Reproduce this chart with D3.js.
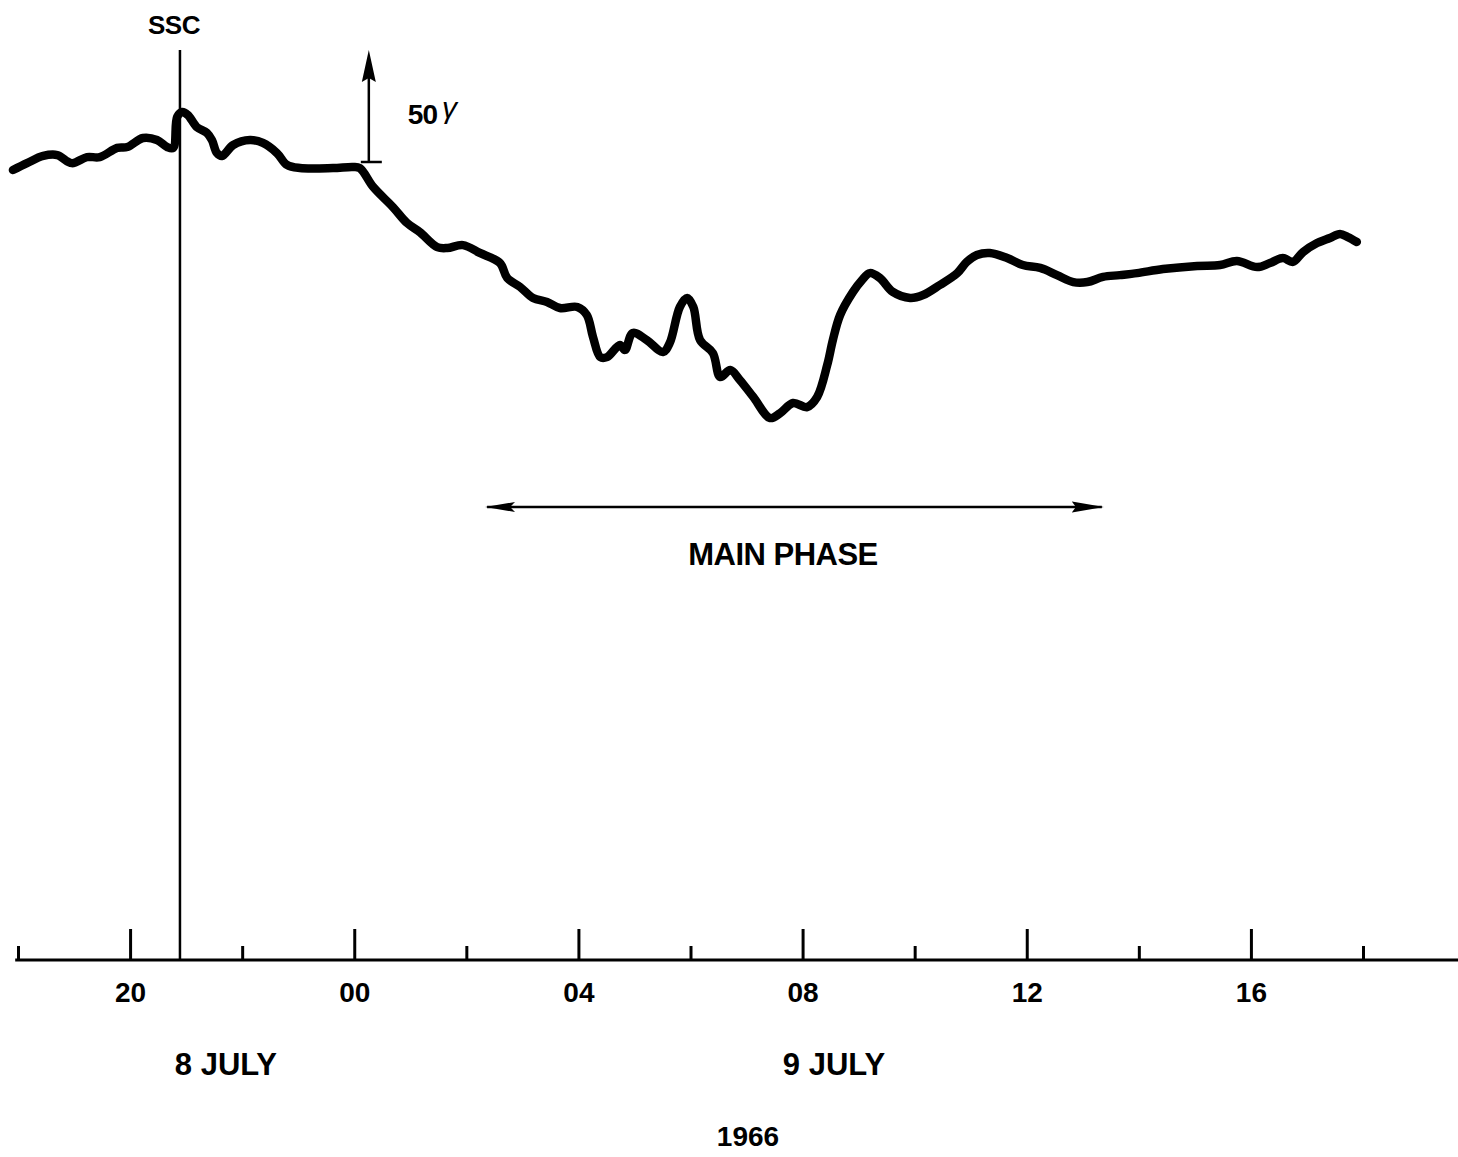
<!DOCTYPE html>
<html>
<head>
<meta charset="utf-8">
<script src="https://cdn.jsdelivr.net/npm/d3@7"></script>
<style>
  html, body { margin: 0; padding: 0; background: #fff; }
  svg { display: block; }
  text { font-family: "Liberation Sans", Arial, Helvetica, sans-serif; font-weight: bold; fill: #000; }
</style>
</head>
<body>
<script>
// Time in hours UT counted from 00 UT on 8 July 1966 (24 = 00 UT 9 July)
const hours = [17.91,18.16,18.45,18.70,18.96,19.23,19.46,19.77,19.95,20.23,20.48,20.66,20.77,20.84,20.93,21.03,21.19,21.37,21.46,21.55,21.64,21.84,22.14,22.37,22.62,22.80,23.03,23.62,23.98,24.10,
  24.34,24.69,24.94,25.17,25.48,25.66,25.94,26.24,26.60,26.73,26.96,27.19,27.44,27.67,27.98,28.15,28.26,28.39,28.51,28.74,28.83,28.97,29.22,29.51,29.63,29.81,29.94,30.05,30.17,30.40,30.53,30.71,30.88,31.12,31.42,31.60,31.83,32.08,32.26,
  32.44,32.54,32.67,32.90,33.06,33.20,33.38,33.61,33.92,34.15,34.45,34.76,34.93,35.11,35.34,35.65,35.93,36.24,36.54,36.83,37.08,37.36,37.66,37.97,38.43,39.04,39.45,39.75,40.11,40.34,40.57,40.75,40.93,41.18,41.41,41.59,41.73,41.89];
// Horizontal field deviation in gammas (nT)
const deltaH = [-3.6,-0.5,2.7,3.1,-0.5,2.2,2.2,6.3,6.7,10.7,9.8,6.7,6.3,20.1,22.3,21.0,15.6,13.0,9.8,4.0,2.7,7.6,9.8,8.5,4.0,-1.3,-2.7,-2.7,-2.2,-2.7,
  -11.2,-20.1,-27.2,-31.3,-38.0,-38.4,-37.1,-40.6,-45.1,-51.8,-55.8,-60.7,-62.5,-65.2,-64.7,-68.3,-78.1,-87.1,-87.1,-81.7,-83.9,-76.3,-79.5,-84.8,-80.8,-64.7,-60.7,-64.7,-79.5,-85.3,-96.0,-92.9,-97.3,-104.9,-114.3,-112.1,-107.6,-109.4,-104.9,
  -90.6,-79.5,-68.3,-58.0,-52.7,-49.6,-51.8,-58.0,-60.7,-59.4,-54.9,-49.6,-44.6,-41.5,-40.6,-42.9,-46.0,-47.3,-50.5,-53.6,-53.6,-51.3,-50.5,-49.6,-47.8,-46.4,-46.0,-44.2,-46.9,-45.1,-42.9,-44.6,-40.2,-36.2,-33.9,-32.1,-33.5,-35.7];

const majorTicks = [20, 24, 28, 32, 36, 40];
const minorTicks = [18, 22, 26, 30, 34, 38, 42];
const dayLabels = ["8 JULY", "9 JULY"];
const dayLabelHours = [21.71, 32.56];
const yearLabel = "1966";
const sscHour = [20.89];
const scaleBarHour = [24.26];
const scaleBarGammas = [0, 50];
const mainPhaseHours = [26.37, 37.34];
const axisExtentHours = [17.95, 43.7];

const W = 1458, H = 1157;
const svg = d3.select("body").append("svg").attr("width", W).attr("height", H);

const defs = svg.append("defs");
defs.append("marker").attr("id", "headR").attr("viewBox", "0 0 32 14").attr("refX", 30).attr("refY", 7)
  .attr("markerWidth", 32).attr("markerHeight", 14).attr("markerUnits", "userSpaceOnUse").attr("orient", "auto")
  .append("path").attr("d", "M0,1.5 L32,7 L0,12.5 L4,7 Z").attr("fill", "#000");
defs.append("marker").attr("id", "headL").attr("viewBox", "0 0 30 14").attr("refX", 2).attr("refY", 7)
  .attr("markerWidth", 30).attr("markerHeight", 14).attr("markerUnits", "userSpaceOnUse").attr("orient", "auto")
  .append("path").attr("d", "M0,7 L30,2 L25,7 L30,12 Z").attr("fill", "#000");

const x = d3.scaleLinear().domain([18, 42]).range([18, 1363]);
const y = d3.scaleLinear().domain([-200, 50]).range([610, 50]);
const axisY = 960;

// Axis baseline
svg.append("line")
  .attr("x1", x(axisExtentHours[0])).attr("x2", x(axisExtentHours[1]))
  .attr("y1", axisY).attr("y2", axisY)
  .attr("stroke", "#000").attr("stroke-width", 3);

// Minor ticks
const minorAxis = d3.axisBottom(x).tickValues(minorTicks).tickSizeInner(-14).tickSizeOuter(0).tickFormat("");
const gMin = svg.append("g").attr("transform", `translate(0,${axisY})`).call(minorAxis);
gMin.select(".domain").remove();
gMin.selectAll(".tick line").attr("stroke", "#000").attr("stroke-width", 3);

// Major ticks with labels
const majorAxis = d3.axisBottom(x).tickValues(majorTicks).tickSizeInner(-31).tickSizeOuter(0)
  .tickPadding(22).tickFormat(d => d3.format("02d")(d % 24));
const gMaj = svg.append("g").attr("transform", `translate(0,${axisY})`).call(majorAxis);
gMaj.select(".domain").remove();
gMaj.selectAll(".tick line").attr("stroke", "#000").attr("stroke-width", 3);
gMaj.selectAll(".tick text").attr("font-size", 28).attr("font-family", '"Liberation Sans", Arial, sans-serif')
  .attr("font-weight", "bold").attr("fill", "#000");

// Day labels
svg.selectAll("text.day").data(dayLabels).join("text").attr("class", "day")
  .attr("x", (d, i) => x(dayLabelHours[i])).attr("y", 1075)
  .attr("text-anchor", "middle").attr("font-size", 31).text(d => d);

svg.append("text").attr("x", 748).attr("y", 1146).attr("text-anchor", "middle")
  .attr("font-size", 28).text(yearLabel);

// SSC line
svg.selectAll("line.ssc").data(sscHour).join("line").attr("class", "ssc")
  .attr("x1", d => x(d)).attr("x2", d => x(d)).attr("y1", 50).attr("y2", axisY)
  .attr("stroke", "#000").attr("stroke-width", 2.5);
svg.append("text").attr("x", x(sscHour[0]) - 6).attr("y", 34).attr("text-anchor", "middle")
  .attr("font-size", 26).attr("letter-spacing", "-0.5px").text("SSC");

// Data curve
const line = d3.line().x((d, i) => x(hours[i])).y(d => y(d)).curve(d3.curveCatmullRom.alpha(0.5));
svg.append("path").datum(deltaH).attr("d", line)
  .attr("fill", "none").attr("stroke", "#000").attr("stroke-width", 8.5)
  .attr("stroke-linecap", "round").attr("stroke-linejoin", "round");

// Scale bar (50 gamma)
const sbx = x(scaleBarHour[0]);
const yTop = y(scaleBarGammas[1]), yBot = y(scaleBarGammas[0]);
svg.append("line").attr("x1", sbx).attr("x2", sbx)
  .attr("y1", yBot).attr("y2", yTop + 20)
  .attr("stroke", "#000").attr("stroke-width", 2.5);
svg.append("path")
  .attr("d", `M${sbx},${yTop} L${sbx + 7},${yTop + 32} L${sbx},${yTop + 28} L${sbx - 7},${yTop + 32} Z`)
  .attr("fill", "#000");
svg.append("line").attr("x1", sbx - 8).attr("x2", sbx + 13)
  .attr("y1", yBot).attr("y2", yBot)
  .attr("stroke", "#000").attr("stroke-width", 2.5);
const lab = svg.append("text").attr("x", sbx + 39).attr("y", 124).attr("font-size", 28).attr("letter-spacing", "-1px");
lab.append("tspan").text("50");
lab.append("tspan").attr("dx", 5).attr("dy", -6).attr("font-style", "italic").attr("font-weight", "normal")
  .attr("font-size", 30).text("γ");

// Main phase arrow
const mpY = 507;
svg.append("line").attr("x1", x(mainPhaseHours[0])).attr("x2", x(mainPhaseHours[1]))
  .attr("y1", mpY).attr("y2", mpY).attr("stroke", "#000").attr("stroke-width", 2.5)
  .attr("marker-start", "url(#headL)").attr("marker-end", "url(#headR)");
svg.append("text").attr("x", 783).attr("y", 565).attr("text-anchor", "middle")
  .attr("font-size", 31).attr("letter-spacing", "-0.5px").text("MAIN PHASE");
</script>
</body>
</html>
